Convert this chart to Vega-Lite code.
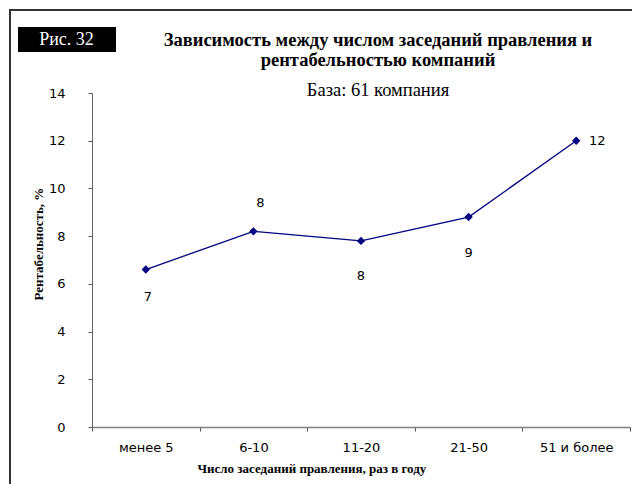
{
  "$schema": "https://vega.github.io/schema/vega-lite/v6.json",
  "width": 538,
  "height": 334,
  "autosize": {"type": "none"},
  "padding": {"left": 92, "top": 93, "right": 2, "bottom": 57},
  "background": "white",
  "config": {"view": {"stroke": null}},
  "title": {
    "text": ["Зависимость между числом заседаний правления и", "рентабельностью компаний"],
    "subtitle": "База: 61 компания",
    "anchor": "middle",
    "frame": "group",
    "font": "Liberation Serif",
    "fontSize": 18.5,
    "fontWeight": "bold",
    "color": "black",
    "lineHeight": 20,
    "subtitleFont": "Liberation Serif",
    "subtitleFontSize": 18.5,
    "subtitleColor": "black",
    "subtitlePadding": 11,
    "offset": -90,
    "dx": 17
  },
  "datasets": {
    "main": [
      {"group": "менее 5", "value": 6.6},
      {"group": "6-10", "value": 8.2},
      {"group": "11-20", "value": 7.8},
      {"group": "21-50", "value": 8.8},
      {"group": "51 и более", "value": 12.0}
    ]
  },
  "layer": [
    {
      "data": {"values": [{}]},
      "mark": {"type": "rect", "fill": "transparent", "stroke": "#333333", "strokeWidth": 2, "clip": false},
      "encoding": {
        "x": {"value": -82},
        "x2": {"value": 800},
        "y": {"value": -83},
        "y2": {"value": 600}
      }
    },
    {
      "data": {"values": [{}]},
      "mark": {"type": "rect", "fill": "black", "clip": false},
      "encoding": {
        "x": {"value": -74},
        "x2": {"value": 24},
        "y": {"value": -66},
        "y2": {"value": -41}
      }
    },
    {
      "data": {"values": [{"label": "Рис. 32"}]},
      "mark": {"type": "text", "color": "white", "font": "Liberation Serif", "fontSize": 18, "align": "center", "baseline": "alphabetic", "clip": false},
      "encoding": {
        "x": {"value": -25.5},
        "y": {"value": -48},
        "text": {"field": "label"}
      }
    },
    {
      "data": {"name": "main"},
      "mark": {"type": "line", "color": "#000080", "strokeWidth": 1.3},
      "encoding": {
        "x": {
          "field": "group",
          "type": "nominal",
          "sort": null,
          "scale": {"type": "band", "paddingInner": 0, "paddingOuter": 0},
          "axis": {
            "title": "Число заседаний правления, раз в году",
            "titleFont": "Liberation Serif",
            "titleFontSize": 13,
            "titleFontWeight": "bold",
            "titleColor": "black",
            "titleAlign": "left",
            "titleBaseline": "middle",
            "titleX": 105,
            "titleY": 41,
            "labelAngle": 0,
            "labelFont": "DejaVu Sans",
            "labelFontSize": 13,
            "labelColor": "black",
            "labelPadding": 10,
            "tickBand": "extent",
            "tickSize": 4,
            "tickColor": "#555555",
            "domainColor": "#808080",
            "domainWidth": 1.5,
            "grid": false
          }
        },
        "y": {
          "field": "value",
          "type": "quantitative",
          "scale": {"domain": [0, 14], "nice": false},
          "axis": {
            "values": [0, 2, 4, 6, 8, 10, 12, 14],
            "title": "Рентабельность, %",
            "titleFont": "Liberation Serif",
            "titleFontSize": 13,
            "titleFontWeight": "bold",
            "titleColor": "black",
            "titleAngle": 270,
            "titleAlign": "left",
            "titleBaseline": "middle",
            "titleX": -54,
            "titleY": 207,
            "labelFont": "DejaVu Sans",
            "labelFontSize": 13,
            "labelColor": "black",
            "labelPadding": 23,
            "tickSize": 4,
            "tickColor": "#555555",
            "domainColor": "#666666",
            "grid": false
          }
        }
      }
    },
    {
      "data": {"name": "main"},
      "mark": {"type": "point", "shape": "diamond", "filled": true, "color": "#000080", "size": 70, "opacity": 1},
      "encoding": {
        "x": {"field": "group", "type": "nominal", "sort": null},
        "y": {"field": "value", "type": "quantitative"}
      }
    },
    {
      "data": {"name": "main"},
      "transform": [{"filter": "datum.group === 'менее 5'"}],
      "mark": {"type": "text", "font": "DejaVu Sans", "fontSize": 13, "color": "black", "dx": 2, "dy": 27},
      "encoding": {
        "x": {"field": "group", "type": "nominal", "sort": null},
        "y": {"field": "value", "type": "quantitative"},
        "text": {"field": "value", "type": "quantitative", "format": ".0f"}
      }
    },
    {
      "data": {"name": "main"},
      "transform": [{"filter": "datum.group === '6-10'"}],
      "mark": {"type": "text", "font": "DejaVu Sans", "fontSize": 13, "color": "black", "dx": 7, "dy": -28},
      "encoding": {
        "x": {"field": "group", "type": "nominal", "sort": null},
        "y": {"field": "value", "type": "quantitative"},
        "text": {"field": "value", "type": "quantitative", "format": ".0f"}
      }
    },
    {
      "data": {"name": "main"},
      "transform": [{"filter": "datum.group === '11-20' || datum.group === '21-50'"}],
      "mark": {"type": "text", "font": "DejaVu Sans", "fontSize": 13, "color": "black", "dx": 0, "dy": 35.5},
      "encoding": {
        "x": {"field": "group", "type": "nominal", "sort": null},
        "y": {"field": "value", "type": "quantitative"},
        "text": {"field": "value", "type": "quantitative", "format": ".0f"}
      }
    },
    {
      "data": {"name": "main"},
      "transform": [{"filter": "datum.group === '51 и более'"}],
      "mark": {"type": "text", "font": "DejaVu Sans", "fontSize": 13, "color": "black", "dx": 21, "dy": 0},
      "encoding": {
        "x": {"field": "group", "type": "nominal", "sort": null},
        "y": {"field": "value", "type": "quantitative"},
        "text": {"field": "value", "type": "quantitative", "format": ".0f"}
      }
    }
  ]
}
